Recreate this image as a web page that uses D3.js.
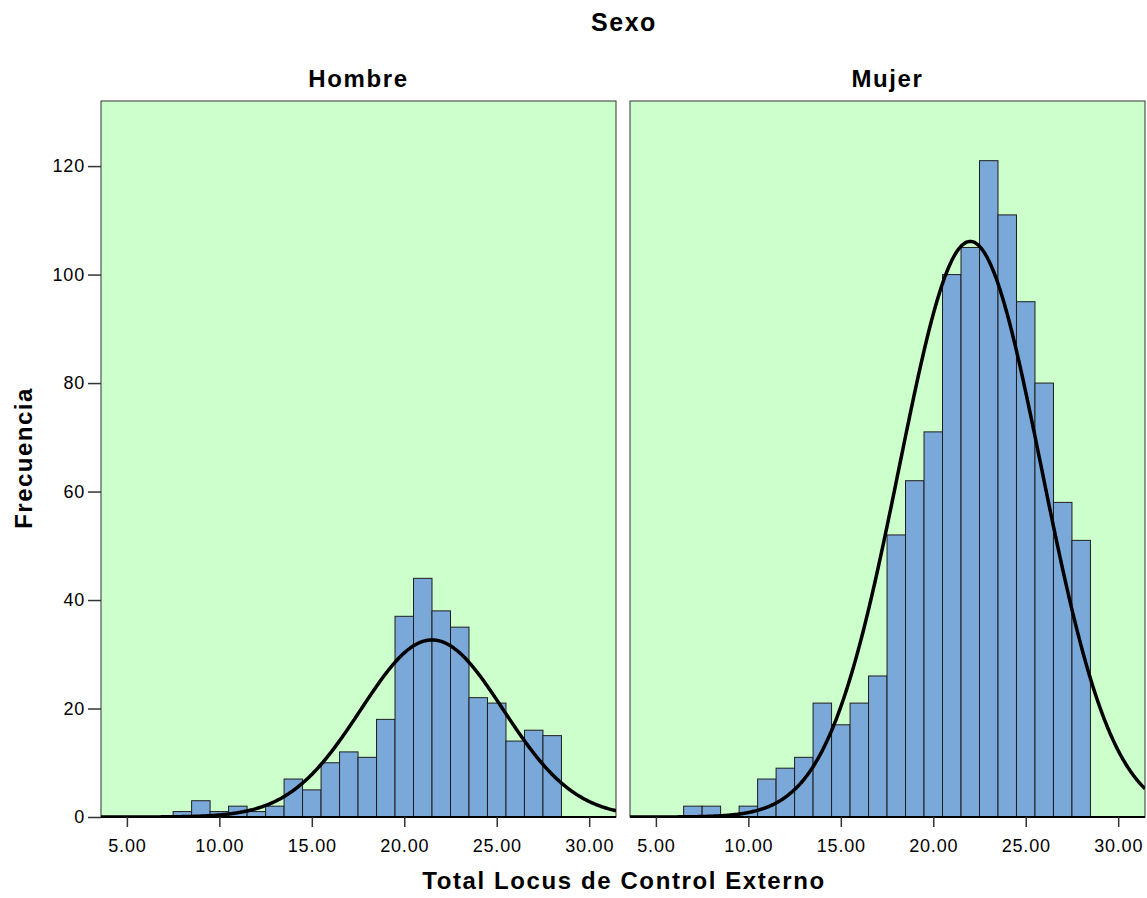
<!DOCTYPE html>
<html>
<head>
<meta charset="utf-8">
<script src="https://cdn.jsdelivr.net/npm/d3@7"></script>
<style>
  body { margin: 0; background: #fff; }
  text { font-family: "Liberation Sans", Arial, sans-serif; fill: #000; }
</style>
</head>
<body>
<script>
// histogram bins (width 1), counts
var hombreBins = [8, 9, 10, 11, 12, 13, 14, 15, 16, 17, 18, 19, 20, 21, 22, 23, 24, 25, 26, 27, 28];
var hombreCounts = [1, 3, 1, 2, 1, 2, 7, 5, 10, 12, 11, 18, 37, 44, 38, 35, 22, 21, 14, 16, 15];
var mujerBins = [7, 8, 9, 10, 11, 12, 13, 14, 15, 16, 17, 18, 19, 20, 21, 22, 23, 24, 25, 26, 27, 28];
var mujerCounts = [2, 2, 0, 2, 7, 9, 11, 21, 17, 21, 26, 52, 62, 71, 100, 105, 121, 111, 95, 80, 58, 51];

// normal curve parameters (mean, sd, n)
var hombreFit = [21.5, 3.85, 315];
var mujerFit = [22.0, 3.85, 1024];

var xTicks = [5, 10, 15, 20, 25, 30];
var yTicks = [0, 20, 40, 60, 80, 100, 120];
var panelNames = ["Hombre", "Mujer"];

var svgWidth = 1147, svgHeight = 898;

var svg = d3.select("body").append("svg")
    .attr("width", svgWidth)
    .attr("height", svgHeight);

var y = d3.scaleLinear().domain([0, 132]).range([817, 101]);

var panels = [
  {name: panelNames[0], bins: hombreBins, counts: hombreCounts, fit: hombreFit, x0: 101, x1: 616},
  {name: panelNames[1], bins: mujerBins, counts: mujerCounts, fit: mujerFit, x0: 630, x1: 1145}
];

panels.forEach(function(p) {
  var x = d3.scaleLinear().domain([3.6, 31.45]).range([p.x0, p.x1]);

  svg.append("rect")
      .attr("x", p.x0)
      .attr("y", y(132))
      .attr("width", p.x1 - p.x0)
      .attr("height", y(0) - y(132))
      .attr("fill", "#ccffcc")
      .attr("stroke", "#333")
      .attr("stroke-width", 1);

  var g = svg.append("g");
  g.selectAll("rect.bar")
    .data(p.bins.map(function(b, i) { return {b: b, c: p.counts[i]}; }).filter(function(d) { return d.c > 0; }))
    .enter()
    .append("rect")
      .attr("class", "bar")
      .attr("x", function(d) { return x(d.b - 0.5); })
      .attr("y", function(d) { return y(d.c); })
      .attr("width", function(d) { return x(d.b + 0.5) - x(d.b - 0.5); })
      .attr("height", function(d) { return y(0) - y(d.c); })
      .attr("fill", "#7aa8d8")
      .attr("stroke", "#1e1e1e")
      .attr("stroke-width", 1);

  // fitted normal curve
  var mean = p.fit[0], sd = p.fit[1], n = p.fit[2];
  var pts = d3.range(3.6, 31.46, 0.05).map(function(v) {
    return [v, n / (sd * Math.sqrt(2 * Math.PI)) * Math.exp(-0.5 * Math.pow((v - mean) / sd, 2))];
  });
  var line = d3.line()
    .x(function(d) { return x(d[0]); })
    .y(function(d) { return y(d[1]); });

  svg.append("clipPath").attr("id", "clip" + p.x0)
    .append("rect").attr("x", p.x0).attr("y", y(132)).attr("width", p.x1 - p.x0).attr("height", y(0) - y(132));

  svg.append("path")
      .datum(pts)
      .attr("d", line)
      .attr("clip-path", "url(#clip" + p.x0 + ")")
      .attr("fill", "none")
      .attr("stroke", "#000")
      .attr("stroke-width", 3.5);

  // x axis
  var xAxis = svg.append("g")
      .attr("transform", "translate(0," + y(0) + ")")
      .call(d3.axisBottom(x).tickValues(xTicks).tickSize(10).tickPadding(5)
        .tickFormat(function(d) { return d3.format(".2f")(d); }));
  xAxis.select(".domain").attr("stroke", "#000").attr("stroke-width", 2)
      .attr("d", "M" + p.x0 + ",0H" + p.x1);
  xAxis.selectAll(".tick line").attr("stroke", "#333").attr("stroke-width", 1.5);
  xAxis.selectAll("text")
      .attr("dy", null).attr("y", 35)
      .style("font-size", "18px").style("letter-spacing", "0.8px").attr("fill", "#222");

  svg.append("text")
      .attr("x", (p.x0 + p.x1) / 2)
      .attr("y", 87)
      .attr("text-anchor", "middle")
      .style("font-size", "24px")
      .style("font-weight", "bold")
      .style("letter-spacing", "1.6px")
      .text(p.name);
});

// y axis
var yAxis = svg.append("g")
    .attr("transform", "translate(101,0)")
    .call(d3.axisLeft(y).tickValues(yTicks).tickSize(13).tickPadding(3));
yAxis.select(".domain").remove();
yAxis.selectAll(".tick line").attr("stroke", "#333").attr("stroke-width", 1.5);
yAxis.selectAll("text").style("font-size", "18px").style("letter-spacing", "0.8px").attr("fill", "#222");

svg.append("text")
    .attr("x", 624)
    .attr("y", 31)
    .attr("text-anchor", "middle")
    .style("font-size", "25px")
    .style("font-weight", "bold")
    .style("letter-spacing", "1.5px")
    .text("Sexo");

svg.append("text")
    .attr("x", 624)
    .attr("y", 889)
    .attr("text-anchor", "middle")
    .style("font-size", "24px")
    .style("font-weight", "bold")
    .style("letter-spacing", "1.6px")
    .text("Total Locus de Control Externo");

svg.append("text")
    .attr("transform", "translate(32,458) rotate(-90)")
    .attr("text-anchor", "middle")
    .style("font-size", "24px")
    .style("font-weight", "bold")
    .style("letter-spacing", "1.5px")
    .text("Frecuencia");
</script>
</body>
</html>
